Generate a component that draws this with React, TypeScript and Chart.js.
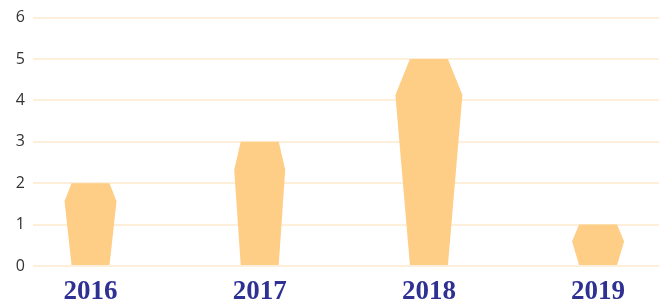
import React, { useEffect, useRef } from "react";
import { Chart, registerables } from "chart.js";

Chart.register(...registerables);

const categories = ["2016", "2017", "2018", "2019"];
const values = [2, 3, 5, 1];
const yTicks = [0, 1, 2, 3, 4, 5, 6];

// shape styling (pixel bulge of each bar's widened shoulder)
const bulgeDx = [7, 6.5, 14.5, 7];
const bulgeDy = [18, 28, 36, 17];

const BAR_COLOR = "#fecd86";
const GRID_COLOR = "#fdefd9";

const shapePlugin = {
  id: "shapeBars",
  afterDatasetsDraw(chart: any) {
    const meta = chart.getDatasetMeta(0);
    const ctx = chart.ctx;
    ctx.save();
    ctx.fillStyle = BAR_COLOR;
    meta.data.forEach((el: any, i: number) => {
      const { x, y, base, width } = el.getProps(["x", "y", "base", "width"], true);
      const hw = width / 2;
      const dx = bulgeDx[i] ?? 7;
      const dy = Math.min(bulgeDy[i] ?? 18, (base - y) * 0.9);
      ctx.beginPath();
      ctx.moveTo(x - hw, base);
      ctx.lineTo(x - hw - dx, y + dy);
      ctx.lineTo(x - hw, y);
      ctx.lineTo(x + hw, y);
      ctx.lineTo(x + hw + dx, y + dy);
      ctx.lineTo(x + hw, base);
      ctx.closePath();
      ctx.fill();
    });
    ctx.restore();
  },
};

export default function App() {
  const ref = useRef<HTMLCanvasElement | null>(null);
  useEffect(() => {
    document.body.style.margin = "0";
    const canvas = ref.current!;
    const chart = new Chart(canvas, {
      type: "bar",
      data: {
        datasets: [
          {
            data: values.map((v, i) => ({ x: i, y: v })),
            backgroundColor: "rgba(0,0,0,0)",
            borderWidth: 0,
            barThickness: 38,
          },
        ],
      },
      options: {
        animation: false,
        responsive: false,
        maintainAspectRatio: false,
        layout: { padding: { top: 16, right: 9, left: 0, bottom: 0 } },
        plugins: { legend: { display: false }, tooltip: { enabled: false } },
        scales: {
          x: {
            type: "linear",
            offset: false,
            min: -0.34,
            max: 3.36,
            grid: { display: false, drawTicks: false, offset: false },
            border: { display: false },
            afterBuildTicks: (scale: any) => {
              scale.ticks = categories.map((_, i) => ({ value: i }));
            },
            afterFit: (scale: any) => {
              scale.height = 38;
            },
            ticks: {
              padding: 10,
              maxRotation: 0,
              autoSkip: false,
              color: "#2e3192",
              font: { family: "'Liberation Serif'", size: 27, weight: "bold" },
              callback: (v: any) => categories[v] ?? "",
            },
          },
          y: {
            min: 0,
            max: 6,
            grid: { color: GRID_COLOR, lineWidth: 2, drawTicks: false },
            border: { display: false },
            afterBuildTicks: (scale: any) => {
              scale.ticks = yTicks.map((v) => ({ value: v }));
            },
            afterFit: (scale: any) => {
              scale.width = 33;
            },
            ticks: {
              padding: 8,
              color: "#333333",
              font: { family: "'Open Sans'", size: 16 },
            },
          },
        },
      },
      plugins: [shapePlugin],
    } as any);
    return () => chart.destroy();
  }, []);
  return <canvas ref={ref} width={668} height={304} style={{ display: "block" }} />;
}
